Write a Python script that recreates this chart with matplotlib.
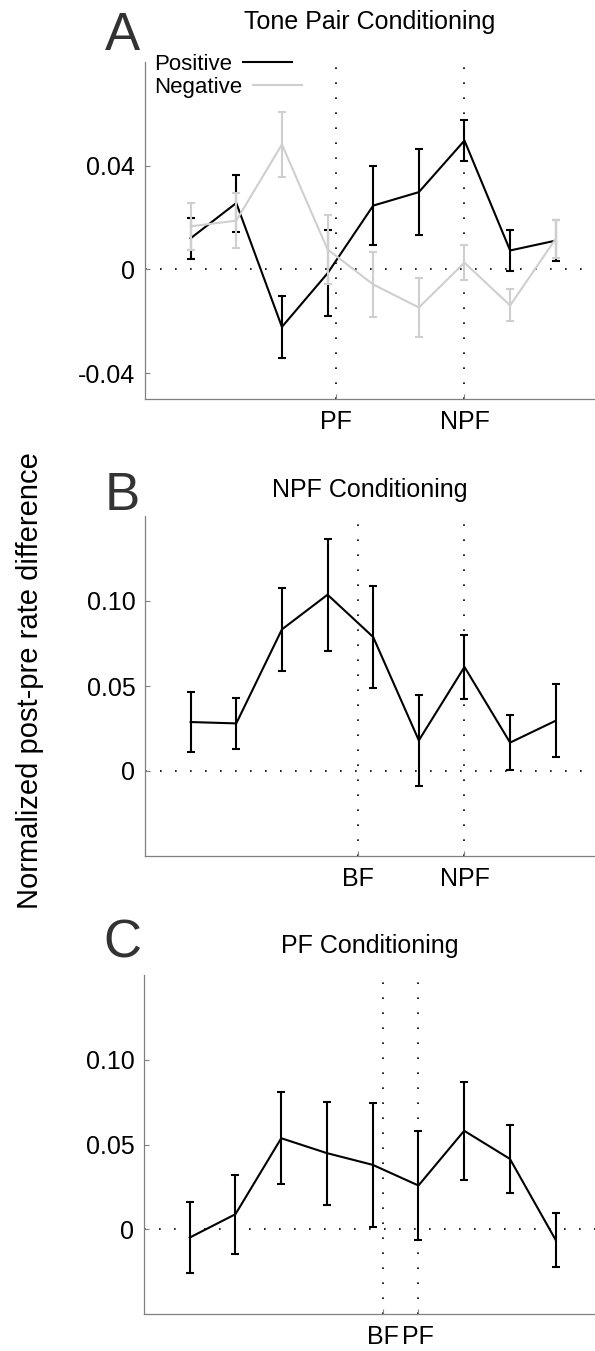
import matplotlib
matplotlib.use('Agg')
import matplotlib.pyplot as plt

plt.rcParams['font.family'] = ['Liberation Sans', 'DejaVu Sans']

# --- Data ---
x = [1, 2, 3, 4, 5, 6, 7, 8, 9]  # frequency bins

# Panel A: tone pair conditioning
pos_mean = [0.012, 0.0256, -0.0222, -0.0015, 0.0246, 0.0298, 0.0497, 0.0073, 0.0111]
pos_err = [0.008, 0.011, 0.012, 0.0165, 0.0153, 0.0166, 0.008, 0.008, 0.008]
neg_mean = [0.0166, 0.0188, 0.0482, 0.0077, -0.0058, -0.0147, 0.0026, -0.0139, 0.0118]
neg_err = [0.009, 0.0105, 0.0127, 0.0134, 0.0125, 0.0113, 0.0068, 0.0062, 0.0074]
a_marks = [4.19, 7.0]
a_names = ['PF', 'NPF']

# Panel B: NPF conditioning
b_mean = [0.0288, 0.028, 0.0833, 0.1037, 0.0788, 0.018, 0.0612, 0.0167, 0.0296]
b_err = [0.0174, 0.015, 0.0246, 0.033, 0.030, 0.027, 0.0187, 0.016, 0.0214]
b_marks = [4.67, 7.0]
b_names = ['BF', 'NPF']

# Panel C: PF conditioning
c_mean = [-0.0049, 0.0089, 0.0537, 0.0449, 0.038, 0.0258, 0.0581, 0.0415, -0.0063]
c_err = [0.021, 0.0234, 0.027, 0.0303, 0.0366, 0.0324, 0.029, 0.0201, 0.0159]
c_marks = [5.22, 5.98]
c_names = ['BF', 'PF']

W, H = 595, 1351
fig = plt.figure(figsize=(W / 100, H / 100), dpi=100)

def make_axes(left, top, bottom):
    return fig.add_axes([left / W, 1 - bottom / H, 1 - left / W, (bottom - top) / H])

def style(ax, ylim, yticks, yticklabels, marks, names):
    ax.set_xlim(0, 9.86)
    ax.set_ylim(*ylim)
    ax.axhline(0, color='black', lw=1.2, ls=(0, (1, 8)), zorder=1)
    for m in marks:
        ax.axvline(m, color='black', lw=1.2, ls=(0, (1, 8)), zorder=1)
    ax.set_xticks(marks)
    ax.set_xticklabels(names)
    ax.set_yticks(yticks)
    ax.set_yticklabels(yticklabels)
    for s in ['top', 'right']:
        ax.spines[s].set_visible(False)
    for s in ['left', 'bottom']:
        ax.spines[s].set_color('#808080')
        ax.spines[s].set_linewidth(0.9)
    ax.tick_params(direction='in', length=3.5, width=0.8, color='#808080',
                   labelsize=18)
    ax.tick_params(axis='y', pad=7)
    ax.tick_params(axis='x', pad=8)

gray = '#cfcfcf'

# --- A ---
axA = make_axes(145, 62, 399)
axA.errorbar(x, pos_mean, yerr=pos_err, color='black', lw=1.5, capsize=3.2,
             capthick=1.5, elinewidth=1.5, label='Positive', zorder=3)
axA.errorbar(x, neg_mean, yerr=neg_err, color=gray, lw=1.5, capsize=3.2,
             capthick=1.5, elinewidth=1.5, label='Negative', zorder=4)
style(axA, (-0.05, 0.08), [-0.04, 0, 0.04], ['-0.04', '0', '0.04'], a_marks, a_names)
axA.set_title('Tone Pair Conditioning', fontsize=18, pad=24)
handles, labels = axA.get_legend_handles_labels()
handles = [h[0] for h in handles]
leg = axA.legend(handles, labels, loc='upper left', bbox_to_anchor=(0.02, 1.025),
                 frameon=False, markerfirst=False, fontsize=16, borderpad=0,
                 borderaxespad=0, handlelength=2.2, handletextpad=0.5,
                 labelspacing=0.1)
# left-align the legend text (MATLAB style)
for col in leg._legend_handle_box.get_children():
    col.align = 'left'

# --- B ---
axB = make_axes(145, 516, 856)
axB.errorbar(x, b_mean, yerr=b_err, color='black', lw=1.5, capsize=3.2,
             capthick=1.5, elinewidth=1.5, zorder=3)
style(axB, (-0.05, 0.15), [0, 0.05, 0.10], ['0', '0.05', '0.10'], b_marks, b_names)
axB.set_title('NPF Conditioning', fontsize=18, pad=14)

# --- C ---
axC = make_axes(144, 975, 1314)
axC.errorbar(x, c_mean, yerr=c_err, color='black', lw=1.5, capsize=3.2,
             capthick=1.5, elinewidth=1.5, zorder=3)
style(axC, (-0.05, 0.15), [0, 0.05, 0.10], ['0', '0.05', '0.10'], c_marks, c_names)
axC.set_title('PF Conditioning', fontsize=18, pad=16)

# panel letters
for letter, base in [('A', 50), ('B', 510), ('C', 957)]:
    fig.text(122 / W, 1 - base / H, letter, fontsize=38, color='#333333',
             ha='center', va='baseline')

fig.text(30 / W, 1 - 681 / H, 'Normalized post-pre rate difference',
         rotation=90, fontsize=21, ha='center', va='center')

fig.savefig('out.png', dpi=100)
